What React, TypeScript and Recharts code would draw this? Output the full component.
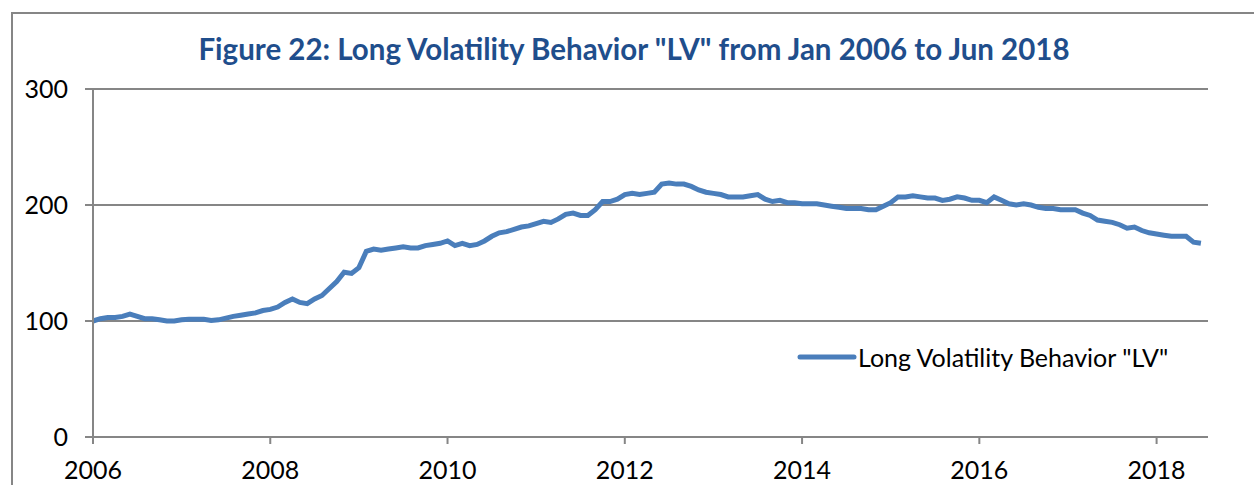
import { CartesianGrid, Line, LineChart, XAxis, YAxis } from "recharts";

const startYear = 2006;

// monthly index values, Jan 2006 onward
const lvValues = [
  100, 102, 103, 103, 104, 106, 104, 102, 102, 101, 100, 100,
  101, 101.5, 101.5, 101.5, 100.5, 101, 102.5, 104, 105, 106, 107, 109,
  110, 112, 116, 119, 116, 115, 119, 122, 128, 134, 142, 141,
  146, 160, 162, 161, 162, 163, 164, 163, 163, 165, 166, 167,
  169, 165, 167, 165, 166, 169, 173, 176, 177, 179, 181, 182,
  184, 186, 185, 188, 192, 193, 191, 191, 196, 203, 203, 205,
  209, 210, 209, 210, 211, 218, 219, 218, 218, 216, 213, 211,
  210, 209, 207, 207, 207, 208, 209, 205, 203, 204, 202, 202,
  201, 201, 201, 200, 199, 198, 197, 197, 197, 196, 196, 199,
  202, 207, 207, 208, 207, 206, 206, 204, 205, 207, 206, 204,
  204, 202, 207, 204, 201, 200, 201, 200, 198, 197, 197, 196,
  196, 196, 193, 191, 187, 186, 185, 183, 180, 181, 178, 176,
  175, 174, 173, 173, 173, 168, 167
];

const yearTicks = [2006, 2008, 2010, 2012, 2014, 2016, 2018];
const valueTicks = [0, 100, 200, 300];
const seriesName = 'Long Volatility Behavior "LV"';

const chartData = lvValues.map((value, index) => ({
  date: startYear + index / 12,
  lv: value
}));

const axisGray = "#868686";
const lineBlue = "#4A7EBB";
const fontFamily = "Lato, 'Open Sans', sans-serif";

export default function App() {
  return (
    <div style={{ position: "fixed", left: 0, top: 0, width: 1254, height: 485, background: "#fff", overflow: "hidden" }}>
      <div
        style={{
          position: "absolute",
          left: 11,
          top: 12,
          width: 1260,
          height: 500,
          borderLeft: `2px solid ${axisGray}`,
          borderTop: `2px solid ${axisGray}`
        }}
      />
      <div
        style={{
          position: "absolute",
          top: 31,
          left: 0,
          width: 1268,
          textAlign: "center",
          fontFamily,
          fontWeight: 700,
          fontSize: 29.5,
          color: "#1F4E8C"
        }}
      >
        Figure 22: Long Volatility Behavior "LV" from Jan 2006 to Jun 2018
      </div>
      <div style={{ position: "absolute", left: 0, top: 0 }}>
        <LineChart width={1254} height={485} data={chartData} margin={{ top: 89, right: 46, bottom: 8, left: 33 }}>
          <CartesianGrid vertical={false} stroke={axisGray} strokeWidth={2} />
          <XAxis
            dataKey="date"
            type="number"
            domain={[2006, 2018.58]}
            ticks={yearTicks}
            height={40}
            stroke={axisGray}
            strokeWidth={2}
            tickSize={7}
            tickMargin={17}
            tick={{ fill: "#000", fontSize: 25, fontFamily }}
          />
          <YAxis
            type="number"
            domain={[0, 300]}
            ticks={valueTicks}
            width={60}
            stroke={axisGray}
            strokeWidth={2}
            tickSize={8}
            tickMargin={17}
            tick={{ fill: "#000", fontSize: 25, fontFamily }}
          />
          <Line
            type="linear"
            dataKey="lv"
            name={seriesName}
            stroke={lineBlue}
            strokeWidth={5}
            dot={false}
            isAnimationActive={false}
          />
        </LineChart>
      </div>
      <div
        style={{
          position: "absolute",
          left: 797,
          top: 342,
          display: "flex",
          alignItems: "center",
          fontFamily,
          fontSize: 25,
          color: "#000"
        }}
      >
        <svg width={61} height={10}>
          <line x1={3} y1={5} x2={57} y2={5} stroke={lineBlue} strokeWidth={5} strokeLinecap="round" />
        </svg>
        <span>{seriesName}</span>
      </div>
    </div>
  );
}
